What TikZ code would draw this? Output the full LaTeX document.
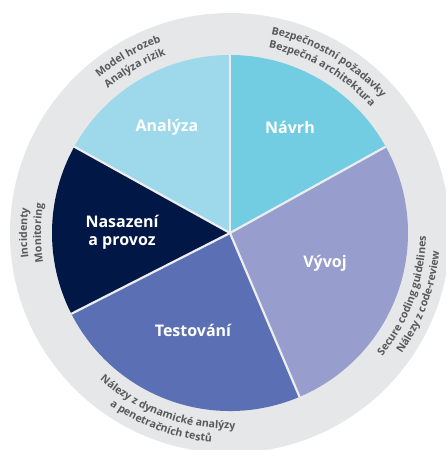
\documentclass[tikz,border=0pt]{standalone}
\usepackage{fontspec}
\setmainfont{Open Sans}
\usetikzlibrary{decorations.text}
\definecolor{ringgray}{HTML}{E6E7E9}
\definecolor{sepgray}{HTML}{EDEDEF}
\definecolor{labelgray}{HTML}{58595B}
\definecolor{cAnalyza}{HTML}{9DD9EA}
\definecolor{cNavrh}{HTML}{72CDE3}
\definecolor{cVyvoj}{HTML}{979DCD}
\definecolor{cTest}{HTML}{5B70B4}
\definecolor{cNasaz}{HTML}{011745}
\newcommand{\lblfont}{\fontsize{10.6}{12}\selectfont\bfseries\color{labelgray}}
\tikzset{
  mainlbl/.style={text=white, font=\fontsize{16}{18}\selectfont\bfseries, align=center},
  sepline/.style={draw=sepgray, line width=2.2pt},
  curved/.style={decorate, decoration={text along path, text align=center, text={|\lblfont|#1}}}
}
\begin{document}
\begin{tikzpicture}[x=1pt,y=1pt]
\useasboundingbox (-230,-217) rectangle (215,233);
\coordinate (c) at (0,0);
\fill[ringgray] (c) circle[radius=220];
% segments
\fill[cNavrh] (c) -- (29:178) arc[start angle=29,end angle=90,radius=178] -- cycle;
\fill[cAnalyza] (c) -- (90:178) arc[start angle=90,end angle=151,radius=178] -- cycle;
\fill[cNasaz] (c) -- (151:178) arc[start angle=151,end angle=207,radius=178] -- cycle;
\fill[cTest] (c) -- (207:178) arc[start angle=207,end angle=293,radius=178] -- cycle;
\fill[cVyvoj] (c) -- (293:178) arc[start angle=293,end angle=389,radius=178] -- cycle;
% separators
\coordinate (s1) at (29:178);
\coordinate (s2) at (90:178);
\coordinate (s3) at (151:178);
\coordinate (s4) at (207:178);
\coordinate (s5) at (293:178);
\foreach \s in {s1,s2,s3,s4,s5} \draw[sepline] (c) -- (\s);
% main labels
\node[mainlbl] (analyza) at (-63,106) {Analýza};
\node[mainlbl] (navrh) at (60,106) {Návrh};
\node[mainlbl] (nasazeni) at (-108,1) {Nasazení\\a provoz};
\node[mainlbl] (vyvoj) at (95,-30) {Vývoj};
\node[mainlbl] (testovani) at (-37,-97) {Testování};
% curved outer labels
\path[curved={Model hrozeb}] (165:203) arc[start angle=165,end angle=75,radius=203];
\path[curved={Analýza rizik}] (165:189) arc[start angle=165,end angle=75,radius=189];
\path[curved={Bezpečnostní požadavky}] (110:203) arc[start angle=110,end angle=10,radius=203];
\path[curved={Bezpečná architektura}] (110:189) arc[start angle=110,end angle=10,radius=189];
\path[curved={Incidenty}] (225:203) arc[start angle=225,end angle=135,radius=203];
\path[curved={Monitoring}] (225:189) arc[start angle=225,end angle=135,radius=189];
\path[curved={Secure coding guidelines}] (-75:196) arc[start angle=-75,end angle=35,radius=196];
\path[curved={Nálezy z code-review}] (-75:210) arc[start angle=-75,end angle=35,radius=210];
\path[curved={Nálezy z dynamické analýzy}] (195:196) arc[start angle=195,end angle=305,radius=196];
\path[curved={a penetračních testů}] (195:210) arc[start angle=195,end angle=305,radius=210];
\end{tikzpicture}
\end{document}
